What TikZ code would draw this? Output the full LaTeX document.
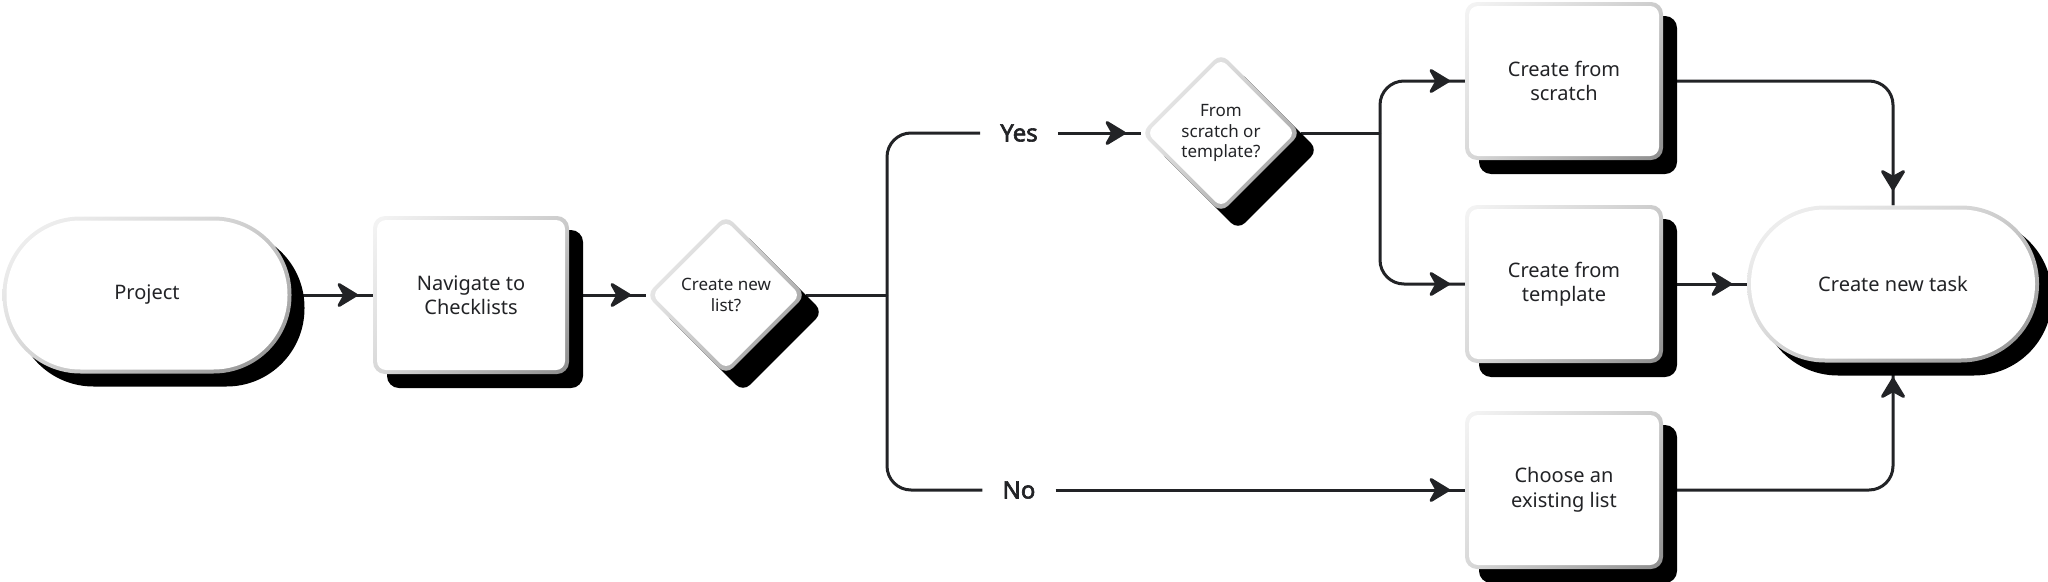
\documentclass[tikz,border=0pt]{standalone}
\usepackage{fontspec}
\setmainfont{Noto Sans}[AutoFakeBold=2.5]
\usetikzlibrary{shapes.geometric,shadows,shadings,arrows.meta,decorations.markings,backgrounds}
\definecolor{ink}{HTML}{222326}
\newcommand{\stepfont}{\fontsize{20pt}{24.5pt}\selectfont}
\newcommand{\askfont}{\fontsize{17pt}{20.5pt}\selectfont}
\newcommand{\replyfont}{\fontsize{24pt}{28pt}\selectfont\bfseries}

\tikzset{
  rimshade/.style={upper left=gray!8,upper right=gray!40,lower left=gray!30,lower right=gray!90},
  rim/.style={path picture={
      \shade[rimshade] (path picture bounding box.south west) rectangle (path picture bounding box.north east);
      \fill[white,rounded corners=#1] ([shift={(4pt,4pt)}]path picture bounding box.south west)
        rectangle ([shift={(-4pt,-4pt)}]path picture bounding box.north east);}},
  diarim/.style={path picture={
      \shade[rimshade] (path picture bounding box.south west) rectangle (path picture bounding box.north east);
      \fill[white,rounded corners=8pt] ([yshift=-5.7pt]path picture bounding box.north)
        -- ([xshift=-5.7pt]path picture bounding box.east) -- ([yshift=5.7pt]path picture bounding box.south)
        -- ([xshift=5.7pt]path picture bounding box.west) -- cycle;}},
  shadowed/.style={general shadow={shadow xshift=#1,shadow yshift=-#1,fill=black}},
  stepbox/.style={rectangle,rounded corners=12pt,minimum width=198pt,minimum height=158pt,
    align=center,font=\stepfont,text=ink,shadowed=14pt,rim=9pt},
  terminal/.style={rectangle,rounded corners=78pt,minimum width=#1,minimum height=157pt,
    font=\stepfont,text=ink,shadowed=13pt,rim=74pt},
  decision/.style={diamond,aspect=1,rounded corners=10pt,minimum width=160pt,minimum height=160pt,
    inner sep=0pt,align=center,font=\askfont,text=ink,shadowed=17pt,diarim},
  answer/.style={font=\replyfont,text=ink,inner xsep=20pt},
  flow/.style={line width=3pt,color=ink,rounded corners=24pt},
  tipped/.style={flow,postaction={decorate},decoration={markings,
      mark=at position -15pt with {\arrow{Stealth[length=24pt,width=29pt,inset=8pt,round]}}}}
}

\begin{document}
\begin{tikzpicture}[x=1pt,y=-1pt]
  \useasboundingbox (0,0) rectangle (2048,581);
  \node[terminal=289pt] (project) at (147,295) {Project};
  \node[stepbox,minimum width=196pt] (navigate) at (471,295) {Navigate to\\Checklists};
  \node[decision] (newlist) at (726,295) {Create new\\list?};
  \coordinate (split1) at (887,295);
  \node[answer] (yes) at (1019,133) {Yes};
  \node[answer] (no) at (1019,490) {No};
  \node[decision] (source) at (1221,133) {From\\scratch or\\template?};
  \coordinate (split2) at (1380,133);
  \node[stepbox] (scratch) at (1564,81) {Create from\\scratch};
  \node[stepbox] (template) at (1564,284) {Create from\\template};
  \node[stepbox] (existing) at (1564,490) {Choose an\\existing list};
  \node[terminal=292pt] (task) at (1893,284) {Create new task};

  \begin{scope}[on background layer]
    \draw[tipped] (project) -- (navigate);
    \draw[tipped] (navigate) -- (newlist);
    \draw[flow] (newlist) -- (split1);
    \draw[flow] (split1) |- (yes);
    \draw[flow] (split1) |- (no);
    \draw[tipped] (yes) -- (source);
    \draw[tipped] (no) -- (existing);
    \draw[flow] (source) -- (split2);
    \draw[tipped] (split2) |- (scratch);
    \draw[tipped] (split2) |- (template);
    \draw[tipped] (scratch) -| (task);
    \draw[tipped] (template) -- (task);
    \draw[tipped] (existing) -| (task);
  \end{scope}
\end{tikzpicture}
\end{document}
